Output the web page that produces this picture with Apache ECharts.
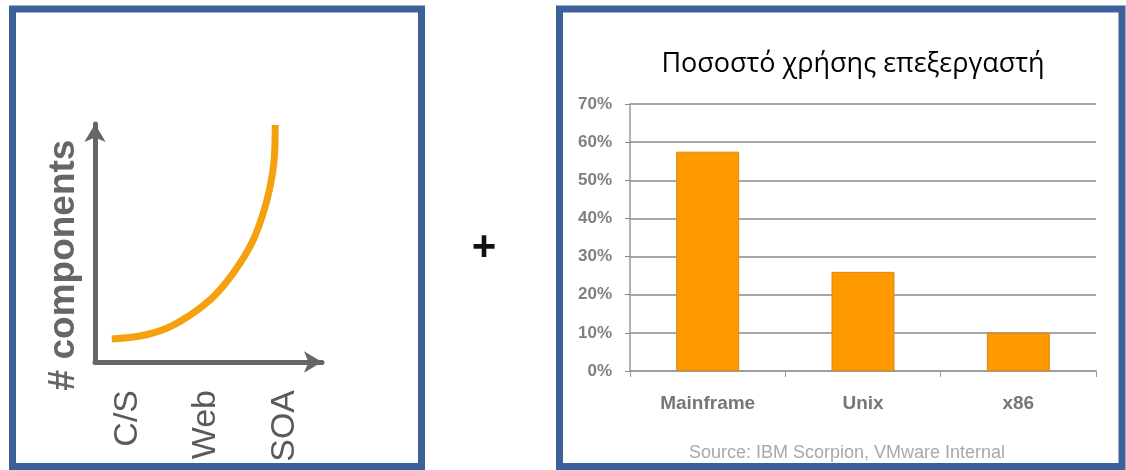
<!DOCTYPE html>
<html>
<head>
<meta charset="utf-8">
<style>
	html, body { margin: 0; padding: 0; background: #fff; }
	#main { width: 1126px; height: 470px; }
</style>
<script src="https://cdn.jsdelivr.net/npm/echarts@6/dist/echarts.min.js"></script>
</head>
<body>
<div id="main"></div>
<script>
	//左图: 组件数量曲线 (坐标 0-100, 从图上读取)
	var curveX = [7.4, 19.8, 31.6, 41.9, 50.7, 58.0, 63.9, 69.7, 74.1, 77.1, 78.9, 79.4];
	var curveY = [9.7, 10.9, 14.2, 19.7, 26.1, 33.7, 41.5, 51.3, 62.5, 73.6, 84.9, 99.6];
	var eras = ['C/S', 'Web', 'SOA'];

	//右图: 处理器使用率
	var platforms = ['Mainframe', 'Unix', 'x86'];
	var cpuUse = [57.5, 26, 10];
	var pctMax = 70;
	var pctStep = 10;

	var curveData = [];
	for (var i = 0; i < curveX.length; i++) {
		curveData.push([curveX[i], curveY[i]]);
	}

	var chart = echarts.init(document.getElementById('main'));

	var option = {
		backgroundColor: '#fff',
		animation: false,
		title: [{
			text: 'Ποσοστό χρήσης επεξεργαστή',
			left: 848,
			top: 46,
			textAlign: 'center',
			textStyle: { fontFamily: 'Open Sans', fontSize: 27, fontWeight: 'normal', color: '#000' }
		}, {
			text: 'Source: IBM Scorpion, VMware Internal',
			left: 842,
			top: 439,
			textAlign: 'center',
			textStyle: { fontFamily: 'Liberation Sans', fontSize: 18, fontWeight: 'normal', color: '#a8a8a8' }
		}, {
			text: '+',
			left: 479,
			top: 222,
			textAlign: 'center',
			textStyle: { fontFamily: 'Liberation Sans', fontSize: 42, fontWeight: 'bold', color: '#111' }
		}],
		grid: [
			{ left: 95, top: 124, width: 227, height: 238 },   //曲线
			{ left: 88, top: 168, width: 236, height: 194 },   //C/S Web SOA 标签
			{ left: 630, top: 104, width: 466, height: 267 }   //柱状图
		],
		xAxis: [{
			type: 'value',
			gridIndex: 0,
			min: 0,
			max: 100,
			splitLine: { show: false },
			axisTick: { show: false },
			axisLabel: { show: false },
			axisLine: {
				show: true,
				symbol: ['none', 'arrow'],
				symbolSize: [16, 18],
				lineStyle: { color: '#666', width: 5 }
			}
		}, {
			type: 'category',
			gridIndex: 1,
			data: eras,
			axisLine: { show: false },
			axisTick: { show: false },
			axisLabel: {
				rotate: 90,
				margin: 28,
				fontFamily: 'Liberation Sans',
				fontSize: 34,
				color: '#5a5a5a'
			}
		}, {
			type: 'category',
			gridIndex: 2,
			data: platforms,
			axisLine: { lineStyle: { color: '#999', width: 1.5 } },
			axisTick: { show: true, length: 6, lineStyle: { color: '#999' } },
			axisLabel: {
				margin: 23,
				fontFamily: 'Liberation Sans',
				fontSize: 19,
				fontWeight: 'bold',
				color: '#777'
			}
		}],
		yAxis: [{
			type: 'value',
			gridIndex: 0,
			min: 0,
			max: 100,
			splitLine: { show: false },
			axisTick: { show: false },
			axisLabel: { show: false },
			axisLine: {
				show: true,
				symbol: ['none', 'arrow'],
				symbolSize: [16, 18],
				lineStyle: { color: '#666', width: 5 }
			}
		}, {
			type: 'value',
			gridIndex: 1,
			splitLine: { show: false },
			axisTick: { show: false },
			axisLabel: { show: false },
			axisLine: { show: false },
			name: '# components',
			nameLocation: 'middle',
			nameRotate: 90,
			nameGap: 6,
			nameTextStyle: { fontFamily: 'Liberation Sans', fontSize: 37, fontWeight: 'bold', color: '#666' }
		}, {
			type: 'value',
			gridIndex: 2,
			min: 0,
			max: pctMax,
			interval: pctStep,
			axisLine: { show: true, lineStyle: { color: '#999', width: 1.5 } },
			axisTick: { show: true, length: 5, lineStyle: { color: '#888' } },
			splitLine: { lineStyle: { color: '#888', width: 1.5 } },
			axisLabel: {
				formatter: '{value}%',
				margin: 18,
				fontFamily: 'Liberation Sans',
				fontSize: 17,
				fontWeight: 'bold',
				color: '#808080'
			}
		}],
		series: [{
			type: 'line',
			xAxisIndex: 0,
			yAxisIndex: 0,
			data: curveData,
			smooth: 0.4,
			symbol: 'none',
			lineStyle: { color: '#f5a00f', width: 7 }
		}, {
			type: 'bar',
			xAxisIndex: 2,
			yAxisIndex: 2,
			data: cpuUse,
			barWidth: 63,
			itemStyle: { color: '#ff9900', borderColor: '#d98b12', borderWidth: 1 }
		}],
		graphic: [{
			type: 'rect',
			z: 100,
			shape: { x: 12.5, y: 9, width: 409, height: 457.5 },
			style: { fill: 'none', stroke: '#3c6199', lineWidth: 7 }
		}, {
			type: 'rect',
			z: 100,
			shape: { x: 559.5, y: 9, width: 562.5, height: 457.5 },
			style: { fill: 'none', stroke: '#3c6199', lineWidth: 7 }
		}]
	};

	chart.setOption(option);
</script>
</body>
</html>
